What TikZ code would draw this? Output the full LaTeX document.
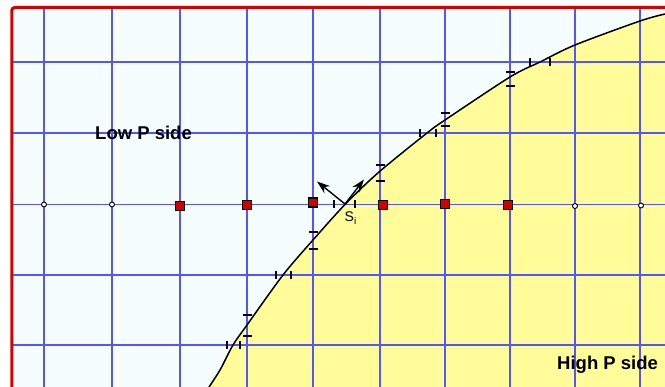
\documentclass[tikz,border=0pt]{standalone}
\usepackage{fontspec}
\setmainfont{Liberation Sans}
\usetikzlibrary{arrows.meta, positioning}
\definecolor{paper}{RGB}{246,253,254}
\definecolor{highp}{RGB}{255,252,153}
\definecolor{gridblue}{RGB}{85,85,255}
\definecolor{framered}{RGB}{215,0,0}
\definecolor{cellred}{RGB}{210,0,0}

\begin{document}
\begin{tikzpicture}[x=1pt, y=-1pt,
  gridline/.style={gridblue, line width=1.2pt},
  tickmark/.style={black, line width=1.4pt},
  cellsq/.style={rectangle, draw=black, fill=cellred, line width=1.1pt, minimum size=9pt, inner sep=0pt},
  celldot/.style={circle, draw=black, fill=white, line width=0.9pt, minimum size=5pt, inner sep=0pt},
  vecarrow/.style={-{Stealth[length=13pt, width=9pt]}, line width=1.4pt},
  sidelbl/.style={font=\fontsize{18.5}{20}\selectfont\bfseries, inner sep=0pt}]
  \useasboundingbox (0,0) rectangle (665,387);
  % Background and high pressure region
  \fill[paper] (11.8,7.5) rectangle (665,387);
  \fill[highp] plot[smooth] coordinates {(209,387) (220,370) (233,345) (247,325) (283,275)
    (313,240) (345,204.5) (379,172) (427,133) (445,120) (510,77) (540,62) (575,45)
    (640,21) (665,14)} -- (665,387) -- cycle;
  % Grid
  \foreach \x in {44,112,180,247,313,380,445,510,575,640} {
    \draw[gridline] (\x,7.5) -- (\x,387);
  }
  \foreach \y in {62,133,204.5,275,345} {
    \draw[gridline] (11.8,\y) -- (665,\y);
  }
  % Interface
  \draw[black, line width=1.5pt] plot[smooth] coordinates {(209,387) (220,370) (233,345) (247,325) (283,275)
    (313,240) (345,204.5) (379,172) (427,133) (445,120) (510,77) (540,62) (575,45)
    (640,21) (665,14)};
  % Ticks on vertical lines
  \foreach \x/\y in {247/315,247/336,313/232,313/249,380/165,380/181,445/113,445/126,510/72,510/86} {
    \draw[tickmark] (\x-4.5,\y) -- (\x+4.5,\y);
  }
  % Ticks on horizontal lines
  \foreach \x/\y in {227/345,240/345,276/275,291/275,334/204.5,355/204.5,420/133,436/133,530/62,550/62} {
    \draw[tickmark] (\x,\y-4) -- (\x,\y+4);
  }
  % Cells along the row
  \foreach \n/\x/\y in {1/44/204.5,2/112/204.5,9/575/206,10/641/205.5} {
    \node[celldot] (d\n) at (\x,\y) {};
  }
  \foreach \n/\x/\y in {3/180/206,4/247/205,5/313/202.5,6/383/205,7/445/204,8/508/205} {
    \node[cellsq] (c\n) at (\x,\y) {};
  }
  % Normal and tangent at S_i
  \coordinate (si) at (345,204);
  \coordinate (nrm) at (317,181.5);
  \coordinate (tng) at (364,179.5);
  \draw[vecarrow] (si) -- (nrm);
  \draw[vecarrow] (si) -- (tng);
  \node[anchor=base west, inner sep=0pt, font=\fontsize{14}{16}\selectfont] (silbl) at (344.5,222) {S\textsubscript{i}};
  % Side labels
  \node[sidelbl, anchor=base west] (lowlbl) at (95,139.3) {Low P side};
  \node[sidelbl, anchor=base west] (highlbl) at (557,370) {High P side};
  % Frame
  \draw[framered, line width=3pt, rounded corners=3pt] (11.8,387) -- (11.8,7.5) -- (665,7.5);
\end{tikzpicture}
\end{document}
